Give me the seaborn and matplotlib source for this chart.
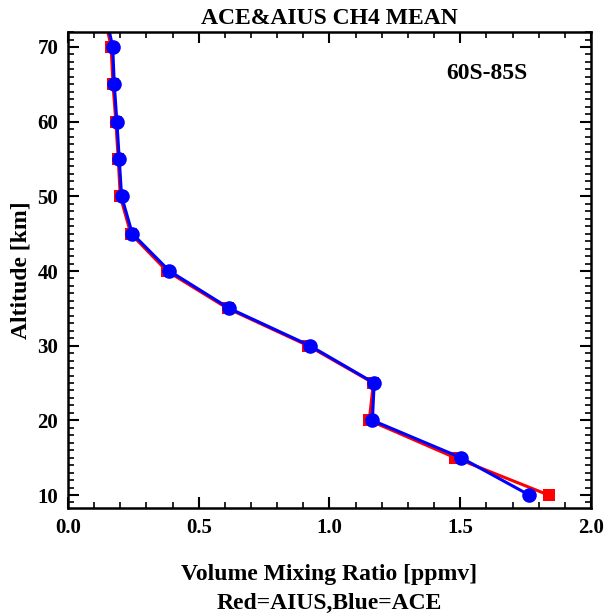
import matplotlib
matplotlib.use("Agg")
import matplotlib.pyplot as plt
import seaborn as sns
import pandas as pd
from matplotlib.ticker import MultipleLocator

altitude = [10, 15, 20, 25, 30, 35, 40, 45, 50, 55, 60, 65, 70, 75]
aius_vmr = [1.838, 1.480, 1.152, 1.168, 0.918, 0.610, 0.378, 0.240, 0.200, 0.192, 0.183, 0.172, 0.165, 0.134]
ace_vmr = [1.764, 1.503, 1.164, 1.171, 0.925, 0.617, 0.388, 0.246, 0.205, 0.196, 0.187, 0.177, 0.171, 0.140]

sns.set_theme(style="white")
plt.rcParams['font.family'] = ['Liberation Serif', 'DejaVu Serif']
plt.rcParams['font.weight'] = 'bold'
plt.rcParams['text.color'] = 'black'
plt.rcParams['axes.labelcolor'] = 'black'
plt.rcParams['xtick.color'] = 'black'
plt.rcParams['ytick.color'] = 'black'

df_aius = pd.DataFrame({"vmr": aius_vmr, "alt": altitude})
df_ace = pd.DataFrame({"vmr": ace_vmr, "alt": altitude})

fig = plt.figure(figsize=(6.06, 6.14), dpi=100)
ax = fig.add_axes([0.1122, 0.1726, 0.8630, 0.7752])

sns.lineplot(data=df_aius, x="vmr", y="alt", sort=False, estimator=None,
             color="#ff0000", lw=2.2, marker="s", markersize=8.5,
             markeredgewidth=0, ax=ax)
sns.lineplot(data=df_ace, x="vmr", y="alt", sort=False, estimator=None,
             color="#0000ff", lw=2.2, marker="o", markersize=10.5,
             markeredgewidth=0, ax=ax)

ax.set_xlim(0, 2.0)
ax.set_ylim(8.26, 72.0)
ax.xaxis.set_major_locator(MultipleLocator(0.5))
ax.xaxis.set_minor_locator(MultipleLocator(0.1))
ax.yaxis.set_major_locator(MultipleLocator(10))
ax.yaxis.set_minor_locator(MultipleLocator(1))
ax.set_xticks([0, 0.5, 1.0, 1.5, 2.0])
ax.set_xticklabels(["0.0", "0.5", "1.0", "1.5", "2.0"])

ax.tick_params(which="both", direction="in", top=True, right=True,
               bottom=True, left=True, color="black", labelcolor="black")
ax.tick_params(which="major", length=8, width=1.5, labelsize=15, pad=7)
ax.tick_params(which="minor", length=4, width=1.2)
for lab in ax.get_xticklabels() + ax.get_yticklabels():
    lab.set_fontweight("bold")
for s in ax.spines.values():
    s.set_color("black")
    s.set_linewidth(1.8)

ax.set_title("ACE&AIUS CH4 MEAN", fontsize=17, fontweight="bold", pad=6,
             color="black")
ax.set_xlabel("Volume Mixing Ratio [ppmv]\nRed=AIUS,Blue=ACE", fontsize=17,
              fontweight="bold", labelpad=19, linespacing=1.5, color="black")
ax.set_ylabel("Altitude [km]", fontsize=17, fontweight="bold", labelpad=4,
              color="black")
ax.text(0.80, 0.912, "60S-85S", transform=ax.transAxes, ha="center",
        va="center", fontsize=17, fontweight="bold", color="black")

fig.savefig("out.png", dpi=100)
